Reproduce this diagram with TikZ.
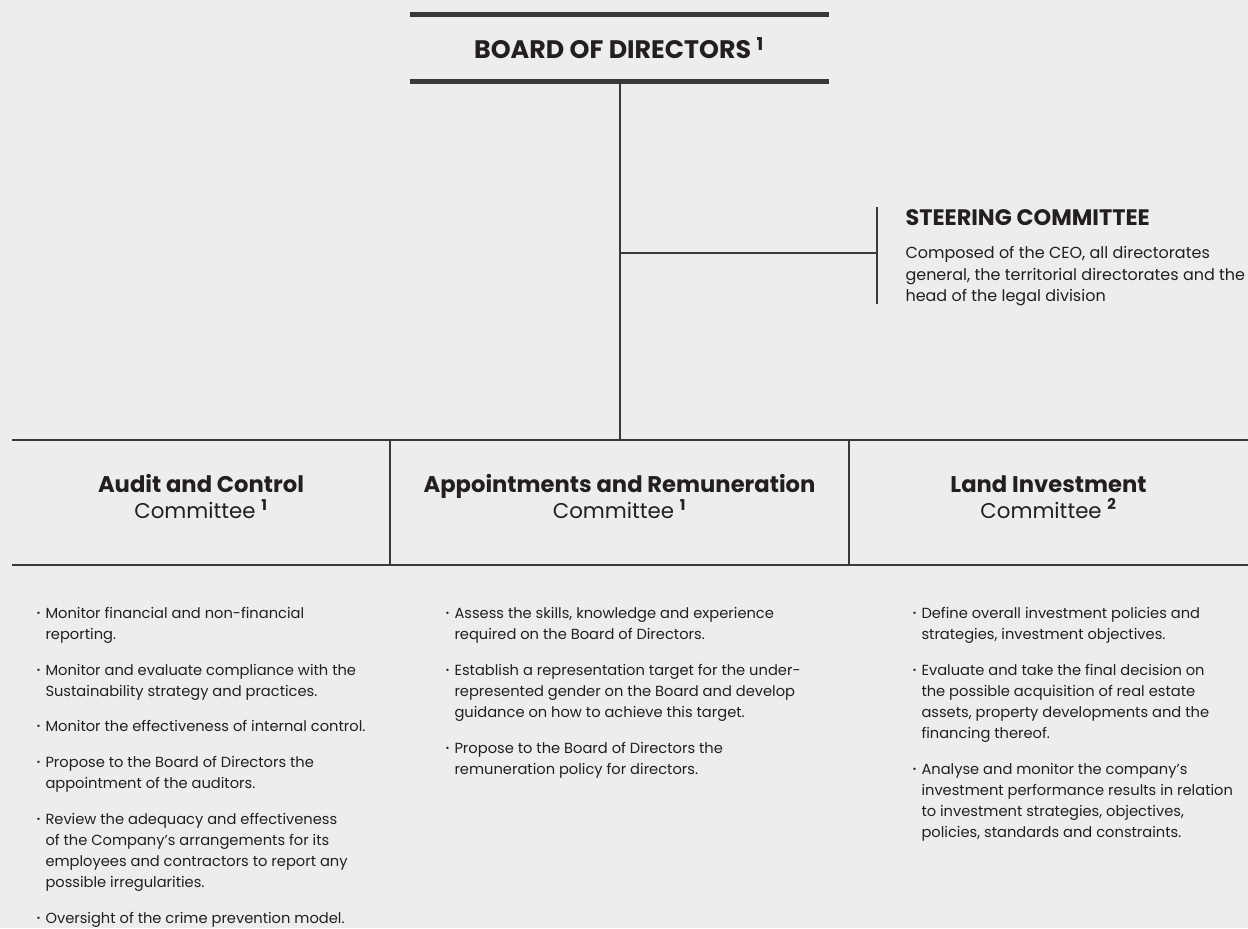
\documentclass[tikz,border=0pt]{standalone}
\usepackage{fontspec}
\setmainfont{Poppins}
\usetikzlibrary{positioning}
\definecolor{paper}{RGB}{237,237,235}
\definecolor{rule}{RGB}{58,56,56}
\definecolor{ink}{RGB}{35,31,32}
\newcommand{\bul}{\raisebox{0.25ex}{\scalebox{0.65}{•}}}
\newcommand{\bodyfont}{\fontsize{11}{15.9}\selectfont}

\tikzset{every picture/.style={line width=0.75pt}}
\tikzset{
  bar/.style={draw=rule, line width=3.5pt},
  link/.style={draw=rule, line width=1.5pt},
  comtitle/.style={align=center, text=ink, font=\fontsize{16}{19.5}\selectfont},
  duties/.style={anchor=north west, inner sep=0pt, text=ink, font=\bodyfont},
}

\begin{document}
\begin{tikzpicture}[x=0.75pt,y=0.75pt,yscale=-1,xscale=1]
	\fill[paper] (0,0) rectangle (1248,928);
	\useasboundingbox (0,0) rectangle (1248,928);
	
	% Text Node
	\node (board) [minimum width=313.5pt, minimum height=49.5pt, inner sep=0pt, text=ink, font=\fontsize{19}{22}\selectfont\bfseries] at (619,48) {BOARD OF DIRECTORS \textsuperscript{1}};
	%Straight Lines
	\draw[bar] (board.north west) -- (board.north east);
	\draw[bar] (board.south west) -- (board.south east);
	
	%Straight Lines
	\coordinate (hub) at (620,440);
	\coordinate (fork) at (620,253);
	\draw[link] (board.south -| hub) -- (hub);
	
	%Straight Lines
	\coordinate (steerbar) at (877,253);
	\coordinate (steertop) at (877,207);
	\coordinate (steerbot) at (877,304);
	\draw[link] (fork) -- (steerbar);
	\draw[link] (steertop) -- (steerbot);
	
	% Text Node
	\node (steer) [anchor=west, inner sep=0pt, text=ink, font=\fontsize{16.8}{19}\selectfont\bfseries] at (905,218) {STEERING COMMITTEE};
	% Text Node
	\node (steerdesc) [anchor=north west, inner sep=0pt, align=left, text=ink, font=\fontsize{12}{16.1}\selectfont] at (905,246) {Composed of the CEO, all directorates\\general, the territorial directorates and the\\head of the legal division};
	
	%Straight Lines
	\coordinate (bandtl) at (12,440);
	\coordinate (bandtr) at (1248,440);
	\coordinate (bandbl) at (12,565);
	\coordinate (bandbr) at (1248,565);
	\coordinate (sepa) at (390,440);
	\coordinate (sepb) at (849,440);
	\draw[link] (bandtl) -- (bandtr);
	\draw[link] (bandbl) -- (bandbr);
	\draw[link] (sepa) -- (sepa |- bandbl);
	\draw[link] (sepb) -- (sepb |- bandbl);
	
	% Text Node
	\node (audit) [comtitle] at (201,497) {{\fontsize{17}{19.5}\selectfont\bfseries Audit and Control}\\Committee \textsuperscript{\bfseries 1}};
	% Text Node
	\node (appoint) [comtitle] at (619.5,497) {{\fontsize{17}{19.5}\selectfont\bfseries Appointments and Remuneration}\\Committee \textsuperscript{\bfseries 1}};
	% Text Node
	\node (land) [comtitle] at (1048.5,497) {{\fontsize{17}{19.5}\selectfont\bfseries Land Investment}\\Committee \textsuperscript{\bfseries 2}};
	
	% Text Node
	\node (auditlist) [duties] at (36,603) {\begin{tabular}{@{}p{6.75pt}@{}l@{}}
		\bul & Monitor financial and non-financial\\
		& reporting.\\[10.8pt]
		\bul & Monitor and evaluate compliance with the\\
		& Sustainability strategy and practices.\\[10.8pt]
		\bul & Monitor the effectiveness of internal control.\\[10.8pt]
		\bul & Propose to the Board of Directors the\\
		& appointment of the auditors.\\[10.8pt]
		\bul & Review the adequacy and effectiveness\\
		& of the Company’s arrangements for its\\
		& employees and contractors to report any\\
		& possible irregularities.\\[10.8pt]
		\bul & Oversight of the crime prevention model.
	\end{tabular}};
	% Text Node
	\node (appointlist) [duties] at (445,603) {\begin{tabular}{@{}p{6.75pt}@{}l@{}}
		\bul & Assess the skills, knowledge and experience\\
		& required on the Board of Directors.\\[10.8pt]
		\bul & Establish a representation target for the under-\\
		& represented gender on the Board and develop\\
		& guidance on how to achieve this target.\\[10.8pt]
		\bul & Propose to the Board of Directors the\\
		& remuneration policy for directors.
	\end{tabular}};
	% Text Node
	\node (landlist) [duties] at (912,603) {\begin{tabular}{@{}p{6.75pt}@{}l@{}}
		\bul & Define overall investment policies and\\
		& strategies, investment objectives.\\[10.8pt]
		\bul & Evaluate and take the final decision on\\
		& the possible acquisition of real estate\\
		& assets, property developments and the\\
		& financing thereof.\\[10.8pt]
		\bul & Analyse and monitor the company’s\\
		& investment performance results in relation\\
		& to investment strategies, objectives,\\
		& policies, standards and constraints.
	\end{tabular}};
	
\end{tikzpicture}
\end{document}
